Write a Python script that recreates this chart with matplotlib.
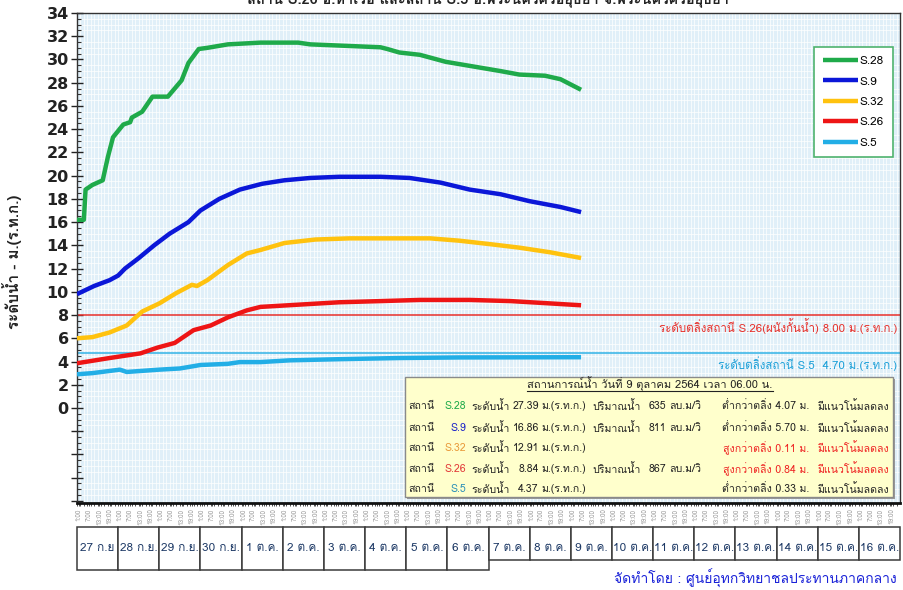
import matplotlib
matplotlib.use('Agg')
import matplotlib.pyplot as plt
from matplotlib import font_manager
from matplotlib.ft2font import FT2Font
from matplotlib.patches import Rectangle
from matplotlib.lines import Line2D
from matplotlib.ticker import MultipleLocator, FixedLocator, NullFormatter

# ---- water level readings (hours from 27 Sep 00:00, metres MSL) ----
s28_hours = [0, 4, 5, 9, 15, 18, 21, 27, 31, 32, 38, 44, 53, 57, 61, 65, 71, 76,
             88, 107, 129, 136, 177, 181, 188, 200, 215, 235, 247, 258, 273, 282, 294]
s28_level = [16.2, 16.2, 18.8, 19.2, 19.6, 21.6, 23.3, 24.4, 24.6, 25.0, 25.5, 26.8,
             26.8, 27.5, 28.2, 29.7, 30.9, 31.0, 31.3, 31.45, 31.45, 31.3, 31.05, 30.9,
             30.6, 30.4, 29.8, 29.3, 29.0, 28.7, 28.6, 28.3, 27.39]

s9_hours = [0, 10, 19, 24, 28, 36, 45, 54, 65, 72, 83, 95, 108, 121, 136, 153,
            177, 194, 212, 229, 247, 264, 282, 294]
s9_level = [9.8, 10.5, 11.0, 11.4, 12.0, 12.9, 14.0, 15.0, 16.0, 17.0, 18.0, 18.8,
            19.3, 19.6, 19.8, 19.9, 19.9, 19.8, 19.4, 18.8, 18.4, 17.8, 17.3, 16.86]

s32_hours = [0, 9, 19, 29, 38, 48, 58, 67, 70, 76, 88, 99, 107, 121, 139, 159,
             206, 223, 241, 258, 276, 294]
s32_level = [6.0, 6.1, 6.5, 7.1, 8.3, 9.0, 9.9, 10.6, 10.5, 11.0, 12.3, 13.3, 13.6,
             14.2, 14.5, 14.6, 14.6, 14.4, 14.1, 13.8, 13.4, 12.91]

s26_hours = [0, 19, 37, 47, 57, 68, 78, 88, 99, 107, 130, 153, 177, 200, 229, 253, 276, 294]
s26_level = [3.85, 4.3, 4.7, 5.2, 5.6, 6.7, 7.1, 7.8, 8.4, 8.7, 8.9, 9.1, 9.2, 9.3,
             9.3, 9.2, 9.0, 8.84]

s5_hours = [0, 9, 25, 29, 48, 60, 72, 88, 95, 107, 124, 153, 188, 223, 294]
s5_level = [2.9, 3.0, 3.3, 3.1, 3.3, 3.4, 3.7, 3.8, 3.95, 3.95, 4.1, 4.2, 4.3, 4.35, 4.37]

stations = ['S.28', 'S.9', 'S.32', 'S.26', 'S.5']
colors = ['#1faa4a', '#0b17d8', '#ffc20e', '#ee1515', '#22aee6']

bank_s26 = 8.00
bank_s5 = 4.70

day_labels = ['27 ก.ย', '28 ก.ย.', '29 ก.ย.', '30 ก.ย.', '1 ต.ค.', '2 ต.ค.', '3 ต.ค.',
              '4 ต.ค.', '5 ต.ค.', '6 ต.ค.', '7 ต.ค.', '8 ต.ค.', '9 ต.ค.', '10 ต.ค.',
              '11 ต.ค.', '12 ต.ค.', '13 ต.ค.', '14 ต.ค.', '15 ต.ค.', '16 ต.ค.']
hour_labels = ['1:00', '7:00', '13:00', '19:00']

# summary panel values
levels = [27.39, 16.86, 12.91, 8.84, 4.37]
flows = ['635', '811', '', '867', '']
diffs = [-4.07, -5.70, 0.11, 0.84, -0.33]


def find_thai_font():
    # pick any installed family that actually carries Thai glyphs
    names = []
    for f in font_manager.fontManager.ttflist:
        if f.name in names:
            continue
        try:
            cmap = FT2Font(f.fname).get_charmap()
        except Exception:
            continue
        if 0x0E01 in cmap and 0x0E33 in cmap:
            names.append(f.name)
    for pref in ['Tahoma', 'Loma', 'Garuda', 'Noto Sans Thai', 'Noto Sans Thai UI',
                 'Waree', 'Sarabun', 'Umpush', 'Kinnari', 'Norasi', 'FreeSans']:
        if pref in names:
            return pref
    return names[0] if names else None


thai = find_thai_font()
families = ([thai] if thai else []) + ['DejaVu Sans']
plt.rcParams['font.family'] = families

W, H = 904, 590
fig = plt.figure(figsize=(W / 100, H / 100), dpi=100)
renderer = fig.canvas.get_renderer()


def fx(px):
    return px / W


def fy(py):
    return 1 - py / H


ax_left, ax_right, ax_top, ax_bottom = 77, 900, 13, 503
ax = fig.add_axes([fx(ax_left), fy(ax_bottom), fx(ax_right - ax_left), (ax_bottom - ax_top) / H])
ax.set_facecolor('#e0eff8')
ax.set_xlim(0, 20)
ax.set_ylim(-8.18, 34)

# y axis: labels every 2 m from 0, unlabeled ticks below zero
ax.yaxis.set_major_locator(FixedLocator(list(range(-8, 35, 2))))
ax.set_yticklabels(['' if v < 0 else str(v) for v in range(-8, 35, 2)])
ax.yaxis.set_minor_locator(MultipleLocator(0.5))
ax.tick_params(axis='y', which='major', direction='inout', length=8, width=1,
               labelsize=11.5, pad=2, colors='#222')
ax.tick_params(axis='y', which='minor', direction='in', length=3, width=0.8, color='#333')
for lbl in ax.get_yticklabels():
    lbl.set_fontweight('bold')
    lbl.set_family('DejaVu Sans')

# x axis: four readings per day, grid every two hours
xt = [d + h / 24 for d in range(20) for h in (1, 7, 13, 19)]
ax.set_xticks(xt)
ax.set_xticklabels(hour_labels * 20, rotation=90, fontsize=4.6, color='#9a9a9a')
ax.set_xticks([d / 12 for d in range(240)], minor=True)
ax.xaxis.set_minor_formatter(NullFormatter())
ax.tick_params(axis='x', which='major', direction='out', length=2.5, width=0.6, pad=1.5, color='#333')
ax.tick_params(axis='x', which='minor', direction='out', length=2.5, width=0.6, color='#333')

# fine background grid
ax.grid(which='minor', axis='y', color='white', lw=0.5)
ax.grid(which='minor', axis='x', color='white', lw=0.5)
ax.set_axisbelow(True)

for side in ['left', 'top', 'right']:
    ax.spines[side].set_color('#333')
    ax.spines[side].set_linewidth(1)
ax.spines['bottom'].set_color('#111')
ax.spines['bottom'].set_linewidth(2)

# bank-full reference levels
ax.axhline(bank_s26, color='#e8302a', lw=1.1, zorder=2)
ax.axhline(bank_s5, color='#33b3e6', lw=1.1, zorder=2)
ax.text(0.997, bank_s26 - 0.25, 'ระดับตลิ่งสถานี S.26(ผนังกั้นน้ำ) %.2f ม.(ร.ท.ก.)' % bank_s26,
        transform=ax.get_yaxis_transform(), ha='right', va='top', fontsize=8.3, color='#e8302a')
ax.text(0.996, bank_s5 - 0.25, 'ระดับตลิ่งสถานี S.5  %.2f ม.(ร.ท.ก.)' % bank_s5,
        transform=ax.get_yaxis_transform(), ha='right', va='top', fontsize=8.3, color='#1a9fd8')

series = [(s28_hours, s28_level), (s9_hours, s9_level), (s32_hours, s32_level),
          (s26_hours, s26_level), (s5_hours, s5_level)]
for (hrs, lev), name, c in zip(series, stations, colors):
    ax.plot([h / 24 for h in hrs], lev, color=c, lw=3.2, solid_capstyle='butt',
            solid_joinstyle='round', label=name, zorder=3)

leg = ax.legend(loc='upper right', bbox_to_anchor=(fx(893), fy(47)), bbox_transform=fig.transFigure,
                fontsize=8.5, frameon=True, fancybox=False, framealpha=1, edgecolor='#4fb36e',
                handlelength=3.0, handletextpad=0.15, labelspacing=0.86, borderpad=0.75,
                borderaxespad=0)
leg.get_frame().set_linewidth(1.2)

fig.text(fx(12), fy(262), 'ระดับน้ำ - ม.(ร.ท.ก.)', rotation=90, ha='center', va='center',
         fontsize=11, fontweight='bold', color='#222')

# chart heading, top edge of the canvas
fig.text(fx(488), fy(-1.5), 'สถานี S.26 อ.ท่าเรือ และสถานี S.5 อ.พระนครศรีอยุธยา จ.พระนครศรีอยุธยา',
         ha='center', va='center', fontsize=10.5, fontweight='bold', color='#222')

# day boxes under the time axis
box_top = 527
ax_d = fig.add_axes([fx(ax_left), fy(572), fx(ax_right - ax_left), (572 - box_top) / H])
ax_d.set_xlim(0, 20)
ax_d.set_ylim(572, box_top)
ax_d.axis('off')
for i, lab in enumerate(day_labels):
    bottom = 570 if i < 10 else 560
    ax_d.add_patch(Rectangle((i, box_top), 1, bottom - box_top, facecolor='white',
                             edgecolor='#3a3a3a', lw=1.1, clip_on=False))
    ax_d.text(i + 0.5, 548, lab, ha='center', va='center', fontsize=8.5, color='#1e3a66')

fig.text(fx(897), fy(578), 'จัดทำโดย : ศูนย์อุทกวิทยาชลประทานภาคกลาง', ha='right', va='center',
         fontsize=10, color='#1a22d8')

# situation summary panel
bx0, by0, bx1, by1 = 405, 377, 893, 497
fig.patches.append(Rectangle((fx(bx0 + 2), fy(by1 + 2)), fx(bx1 - bx0), (by1 - by0) / H,
                             transform=fig.transFigure, facecolor='#9a9a9a', edgecolor='none', zorder=4))
fig.patches.append(Rectangle((fx(bx0), fy(by1)), fx(bx1 - bx0), (by1 - by0) / H,
                             transform=fig.transFigure, facecolor='#ffffcc', edgecolor='#8a8a8a',
                             lw=1, zorder=5))

fs = 7.6
title = fig.text(fx(650), fy(384), 'สถานการณ์น้ำ วันที่ 9 ตุลาคม 2564 เวลา 06.00 น.', ha='center',
                 va='center', fontsize=fs + 0.4, color='#222', zorder=6)
bb = title.get_window_extent(renderer=renderer)
fig.add_artist(Line2D([bb.x0 / W, bb.x1 / W], [fy(390.5)] * 2, transform=fig.transFigure,
                      color='#222', lw=0.8, zorder=6))


def put(x, y, s, color='#222', ha='left'):
    return fig.text(fx(x), fy(y), s, ha=ha, va='center', fontsize=fs, color=color, zorder=6)


def measure(s):
    t = put(100, 100, s)
    w = t.get_window_extent(renderer=renderer).width
    t.remove()
    return w


code_colors = ['#1faa4a', '#1a22c8', '#e99a3a', '#e23a3a', '#2a8fb8']
rows_y = [406, 428, 448, 469, 489]

# column positions follow the measured widths of the widest entries
x_lab = 471
x_num_r = x_lab + measure('ระดับน้ำ') + 3 + measure('27.39')
x_unit = x_num_r + 3
x_flow = x_unit + measure('ม.(ร.ท.ก.)') + 6
x_flow_r = x_flow + measure('ปริมาณน้ำ') + 8 + measure('635')
x_flow_unit = x_flow_r + 3
x_trend = 889 - measure('มีแนวโน้มลดลง')
x_diff_r = x_trend - 8

for i in range(5):
    y = rows_y[i]
    put(408, y, 'สถานี')
    put(466, y, stations[i], code_colors[i], ha='right')
    put(x_lab, y, 'ระดับน้ำ')
    put(x_num_r, y, '%.2f' % levels[i], ha='right')
    put(x_unit, y, 'ม.(ร.ท.ก.)')
    if flows[i]:
        put(x_flow, y, 'ปริมาณน้ำ')
        put(x_flow_r, y, flows[i], ha='right')
        put(x_flow_unit, y, 'ลบ.ม/วิ')
    above = diffs[i] > 0
    c = '#ee2222' if above else '#222'
    word = 'สูงกว่าตลิ่ง' if above else 'ต่ำกว่าตลิ่ง'
    put(x_diff_r, y, '%s %.2f ม.' % (word, abs(diffs[i])), c, ha='right')
    put(x_trend, y, 'มีแนวโน้มลดลง', c)

fig.savefig('out.png', dpi=100)
